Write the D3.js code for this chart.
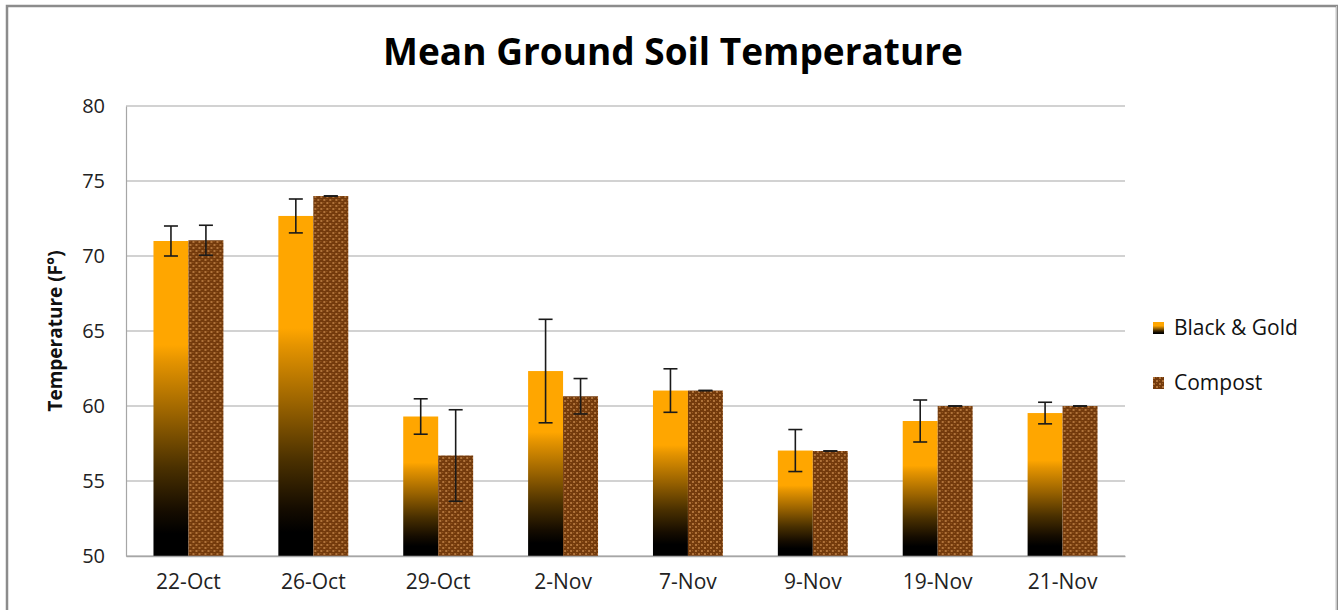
<!DOCTYPE html>
<html>
<head>
<meta charset="utf-8">
<script src="https://cdn.jsdelivr.net/npm/d3@7"></script>
<style>
  body { margin: 0; background: #fff; }
  text { font-family: "Open Sans", "Noto Sans", sans-serif; }
</style>
</head>
<body>
<div id="chart"></div>
<script>
// Data
const dates = ["22-Oct", "26-Oct", "29-Oct", "2-Nov", "7-Nov", "9-Nov", "19-Nov", "21-Nov"];
const blackGold = [71.0, 72.67, 59.3, 62.33, 61.03, 57.03, 59.0, 59.53];
const blackGoldErr = [1.0, 1.13, 1.18, 3.45, 1.45, 1.4, 1.4, 0.72];
const compost = [71.05, 74.0, 56.7, 60.65, 61.03, 57.0, 60.0, 60.0];
const compostErr = [1.0, 0, 3.05, 1.18, 0, 0, 0, 0];
const yTicks = [50, 55, 60, 65, 70, 75, 80];
const seriesNames = ["Black & Gold", "Compost"];

const width = 1338, height = 610;
const margin = { top: 106, right: 213, bottom: 54, left: 126 };
const chartWidth = width - margin.left - margin.right;
const chartHeight = height - margin.top - margin.bottom;

const svg = d3.select("#chart").append("svg")
    .attr("width", width)
    .attr("height", height);

// Fills: gold-to-black gradient and brown texture
const defs = svg.append("defs");
const grad = defs.append("linearGradient")
    .attr("id", "goldGrad")
    .attr("x1", 0).attr("y1", 0).attr("x2", 0).attr("y2", 1);
[[0, "#ffa600"], [0.33, "#ffa600"], [0.38, "#e59400"], [0.55, "#9a6300"],
 [0.72, "#4a3000"], [0.86, "#150c00"], [0.93, "#000000"], [1, "#000000"]]
    .forEach(([o, c]) => grad.append("stop").attr("offset", o).attr("stop-color", c));

const pat = defs.append("pattern")
    .attr("id", "compostPat")
    .attr("patternUnits", "userSpaceOnUse")
    .attr("width", 6).attr("height", 6);
pat.append("rect").attr("width", 6).attr("height", 6).attr("fill", "#733a0c");
pat.append("rect").attr("x", 0).attr("y", 0).attr("width", 2).attr("height", 2).attr("fill", "#b0733a");
pat.append("rect").attr("x", 3).attr("y", 3).attr("width", 2).attr("height", 2).attr("fill", "#b0733a");
pat.append("rect").attr("x", 3).attr("y", 0).attr("width", 1).attr("height", 1).attr("fill", "#96581f");
pat.append("rect").attr("x", 0).attr("y", 3).attr("width", 1).attr("height", 1).attr("fill", "#96581f");

const fills = ["url(#goldGrad)", "url(#compostPat)"];

// Outer frame
svg.append("path")
    .attr("d", `M7,${height} V6 H${width - 1} V${height}`)
    .attr("fill", "none")
    .attr("stroke", "#8c8c8c")
    .attr("stroke-width", 2.5);
svg.append("line")
    .attr("x1", width - 1.5).attr("x2", width - 1.5)
    .attr("y1", 6).attr("y2", height)
    .attr("stroke", "#c8c8c8").attr("stroke-width", 1);

const g = svg.append("g")
    .attr("transform", `translate(${margin.left},${margin.top})`);

// Scales
const x = d3.scaleBand()
    .domain(dates)
    .range([0, chartWidth])
    .paddingInner(0.44)
    .paddingOuter(0.22);

const x1 = d3.scaleBand()
    .domain(seriesNames)
    .range([0, x.bandwidth()]);

const y = d3.scaleLinear()
    .domain([50, 80])
    .range([chartHeight, 0]);

// Gridlines
g.selectAll("line.grid")
    .data(yTicks)
    .enter()
    .append("line")
    .attr("class", "grid")
    .attr("x1", 0).attr("x2", chartWidth)
    .attr("y1", d => y(d)).attr("y2", d => y(d))
    .attr("stroke", "#a6a6a6")
    .attr("stroke-width", 1.2);

// Y axis
const yAxis = g.append("g")
    .call(d3.axisLeft(y).tickValues(yTicks).tickSize(0).tickPadding(21));
yAxis.select(".domain").attr("stroke", "#a6a6a6").attr("stroke-width", 1.2);
yAxis.selectAll("text").style("font-size", "20px").attr("fill", "#222");

// Bars
const rows = dates.map((d, i) => ({
    date: d,
    values: [
        { key: seriesNames[0], v: blackGold[i], e: blackGoldErr[i], fill: fills[0] },
        { key: seriesNames[1], v: compost[i], e: compostErr[i], fill: fills[1] }
    ]
}));

const groups = g.selectAll("g.group")
    .data(rows)
    .enter()
    .append("g")
    .attr("class", "group")
    .attr("transform", d => `translate(${x(d.date)},0)`);

groups.selectAll("rect")
    .data(d => d.values)
    .enter()
    .append("rect")
    .attr("x", d => x1(d.key))
    .attr("y", d => y(d.v))
    .attr("width", x1.bandwidth())
    .attr("height", d => y(50) - y(d.v))
    .attr("fill", d => d.fill);

// Error bars
const capW = 7;
const err = groups.selectAll("g.err")
    .data(d => d.values)
    .enter()
    .append("g")
    .attr("class", "err")
    .attr("stroke", "#1a1a1a")
    .attr("stroke-width", 1.6);
err.append("line")
    .attr("x1", d => x1(d.key) + x1.bandwidth() / 2)
    .attr("x2", d => x1(d.key) + x1.bandwidth() / 2)
    .attr("y1", d => y(d.v + d.e))
    .attr("y2", d => y(d.v - d.e));
err.append("line")
    .attr("x1", d => x1(d.key) + x1.bandwidth() / 2 - capW)
    .attr("x2", d => x1(d.key) + x1.bandwidth() / 2 + capW)
    .attr("y1", d => y(d.v + d.e))
    .attr("y2", d => y(d.v + d.e));
err.append("line")
    .attr("x1", d => x1(d.key) + x1.bandwidth() / 2 - capW)
    .attr("x2", d => x1(d.key) + x1.bandwidth() / 2 + capW)
    .attr("y1", d => y(d.v - d.e))
    .attr("y2", d => y(d.v - d.e));

// X axis
const xAxis = g.append("g")
    .attr("transform", `translate(0,${chartHeight})`)
    .call(d3.axisBottom(x).tickSize(0).tickPadding(18));
xAxis.select(".domain").attr("stroke", "#a6a6a6").attr("stroke-width", 1.5);
xAxis.selectAll("text").style("font-size", "21px").attr("fill", "#222");

// Y axis title
svg.append("text")
    .attr("transform", `translate(62,${margin.top + chartHeight / 2}) rotate(-90)`)
    .attr("text-anchor", "middle")
    .style("font-size", "19px")
    .style("font-weight", "bold")
    .attr("fill", "#111")
    .text("Temperature (F°)");

// Title
svg.append("text")
    .attr("x", 673)
    .attr("y", 65)
    .attr("text-anchor", "middle")
    .style("font-size", "37px")
    .style("font-weight", "bold")
    .attr("fill", "#000")
    .text("Mean Ground Soil Temperature");

// Legend
const legend = svg.append("g")
    .attr("transform", "translate(1153,322)");
seriesNames.forEach((name, i) => {
    const row = legend.append("g").attr("transform", `translate(0,${i * 55})`);
    row.append("rect").attr("width", 11).attr("height", 12).attr("fill", fills[i]);
    row.append("text").attr("x", 21).attr("y", 13)
        .style("font-size", "21px").attr("fill", "#111").text(name);
});
</script>
</body>
</html>
